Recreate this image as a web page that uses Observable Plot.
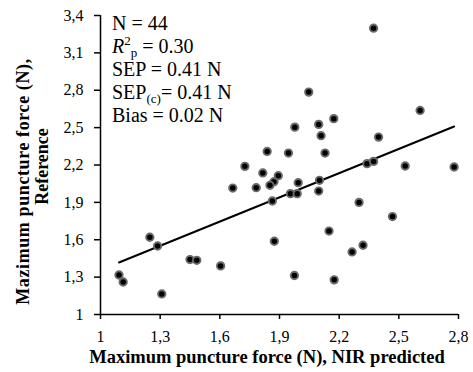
<!DOCTYPE html>
<html>
<head>
<meta charset="utf-8">
<script src="https://cdn.jsdelivr.net/npm/d3@7"></script>
<script src="https://cdn.jsdelivr.net/npm/@observablehq/plot@0.6"></script>
<style>
  html, body { margin: 0; padding: 0; background: white; }
  svg text { font-family: 'Liberation Serif', 'Times New Roman', serif; }
</style>
</head>
<body>
<div id="chart"></div>
<script>
// NIR predicted maximum puncture force (N)
const predicted = [2.373, 2.047, 2.607, 2.173, 2.097, 1.977, 2.109, 2.398, 1.838, 1.945, 2.129,
  1.726, 2.340, 2.373, 2.532, 2.778, 1.816, 1.894, 1.872, 1.852, 1.994, 2.101,
  2.097, 1.955, 1.989, 1.665, 1.783, 1.864, 2.300, 2.468, 2.149, 1.874, 1.248,
  1.287, 2.265, 2.320, 1.450, 1.484, 1.604, 1.975, 2.175, 1.093, 1.114, 1.308];
// Reference maximum puncture force (N)
const reference = [3.298, 2.785, 2.638, 2.572, 2.526, 2.504, 2.435, 2.424, 2.309, 2.296, 2.296,
  2.189, 2.211, 2.229, 2.192, 2.184, 2.136, 2.114, 2.066, 2.037, 2.058, 2.077,
  1.991, 1.970, 1.970, 2.015, 2.018, 1.911, 1.900, 1.786, 1.670, 1.588, 1.620,
  1.550, 1.502, 1.556, 1.441, 1.435, 1.390, 1.313, 1.278, 1.317, 1.261, 1.165];
const xTicks = [1, 1.3, 1.6, 1.9, 2.2, 2.5, 2.8];
const yTicks = [1, 1.3, 1.6, 1.9, 2.2, 2.5, 2.8, 3.1, 3.4];
const xTitle = "Maximum puncture force (N), NIR predicted";
const yTitleLines = ["Mazimum puncture force (N),", "Reference"];
const stats = { n: "44", r2: "0.30", sep: "0.41", sepc: "0.41", bias: "0.02" };

const data = predicted.map((x, i) => ({ x, y: reference[i] }));
const fmt = d => String(+d.toFixed(1)).replace(".", ",");
const serif = "'Liberation Serif', 'Times New Roman', serif";

const W = 473, H = 372, mL = 100, mR = 15, mT = 15, mB = 58;

const plot = Plot.plot({
  width: W, height: H,
  marginLeft: mL, marginRight: mR, marginTop: mT, marginBottom: mB,
  style: { fontFamily: serif, fontSize: "16px", color: "black", background: "white" },
  x: { domain: [1, 2.8] },
  y: { domain: [1, 3.4] },
  marks: [
    Plot.axisX(xTicks, { tickFormat: fmt, tickSize: 5, tickPadding: 11, strokeWidth: 1.5, label: null, fontSize: 16, fontFamily: serif }),
    Plot.axisY(yTicks, { tickFormat: fmt, tickSize: 6, tickPadding: 11, strokeWidth: 1.5, label: null, fontSize: 16, fontFamily: serif }),
    Plot.ruleX([1], { stroke: "black", strokeWidth: 1.5 }),
    Plot.ruleY([1], { stroke: "black", strokeWidth: 1.5 }),
    Plot.linearRegressionY(data, { x: "x", y: "y", ci: 0, stroke: "black", strokeWidth: 2 }),
    Plot.dot(data, { x: "x", y: "y", r: 3.7, fill: "black", stroke: "#6a6a6a", strokeWidth: 1.9 })
  ]
});

const svg = d3.select(plot);

// axis titles
svg.append("text")
  .attr("x", 267).attr("y", 363)
  .attr("text-anchor", "middle")
  .attr("font-family", serif).attr("font-size", 18.5).attr("font-weight", "bold")
  .attr("fill", "black")
  .text(xTitle);

svg.append("text")
  .attr("transform", "translate(28.5,181.5) rotate(-90)")
  .attr("text-anchor", "middle")
  .attr("font-family", serif).attr("font-size", 18).attr("font-weight", "bold")
  .attr("letter-spacing", 0.6)
  .attr("fill", "black")
  .text(yTitleLines[0]);
svg.append("text")
  .attr("transform", "translate(48,166.5) rotate(-90)")
  .attr("text-anchor", "middle")
  .attr("font-family", serif).attr("font-size", 18).attr("font-weight", "bold")
  .attr("fill", "black")
  .text(yTitleLines[1]);

// statistics annotation
const ann = svg.append("g")
  .attr("text-anchor", "start")
  .attr("font-family", serif).attr("font-size", 20).attr("fill", "black");
const x0 = mL + 12, b0 = 29.5, step = 23;

ann.append("text").attr("x", x0).attr("y", b0).text(`N = ${stats.n}`);

const t2 = ann.append("text").attr("x", x0).attr("y", b0 + step);
t2.append("tspan").attr("font-style", "italic").text("R");
t2.append("tspan").attr("font-size", 13).attr("dy", -8).text("2");
t2.append("tspan").attr("font-size", 13).attr("dy", 12).text("p");
t2.append("tspan").attr("dy", -4).text(` = ${stats.r2}`);

ann.append("text").attr("x", x0).attr("y", b0 + 2 * step).text(`SEP = ${stats.sep} N`);

const t4 = ann.append("text").attr("x", x0).attr("y", b0 + 3 * step);
t4.append("tspan").text("SEP");
t4.append("tspan").attr("font-size", 13).attr("dy", 4).text("(c)");
t4.append("tspan").attr("dy", -4).text(`= ${stats.sepc} N`);

ann.append("text").attr("x", x0).attr("y", b0 + 4 * step).text(`Bias = ${stats.bias} N`);

document.getElementById("chart").appendChild(plot);
</script>
</body>
</html>
